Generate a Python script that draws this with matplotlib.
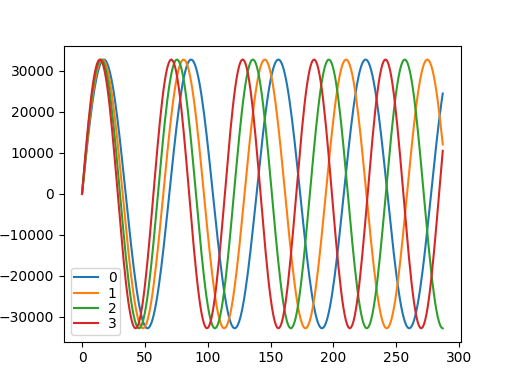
import matplotlib.pyplot as plt
import numpy as np

plt.switch_backend('Agg')

# values: 288 samples of four int16 tones
labels = ["0", "1", "2", "3"]
periods = [69.42, 64.64, 60.42, 56.81]   # samples per cycle
amplitude = 32767
n_samples = 288


def main():
    x = np.arange(n_samples)
    fig, ax = plt.subplots(figsize=(5.12, 3.84), dpi=100)
    for lab, p in zip(labels, periods):
        y = np.round(amplitude * np.sin(2 * np.pi * x / p))
        ax.plot(x, y, label=lab)
    # compact legend, as in the reference
    ax.legend(loc="lower left", fontsize=10, borderpad=0.25, labelspacing=0.1,
              handlelength=1.7, handletextpad=0.7, borderaxespad=0.5)
    fig.savefig("out.png", dpi=100)
    plt.close(fig)


if __name__ == '__main__':
    main()
